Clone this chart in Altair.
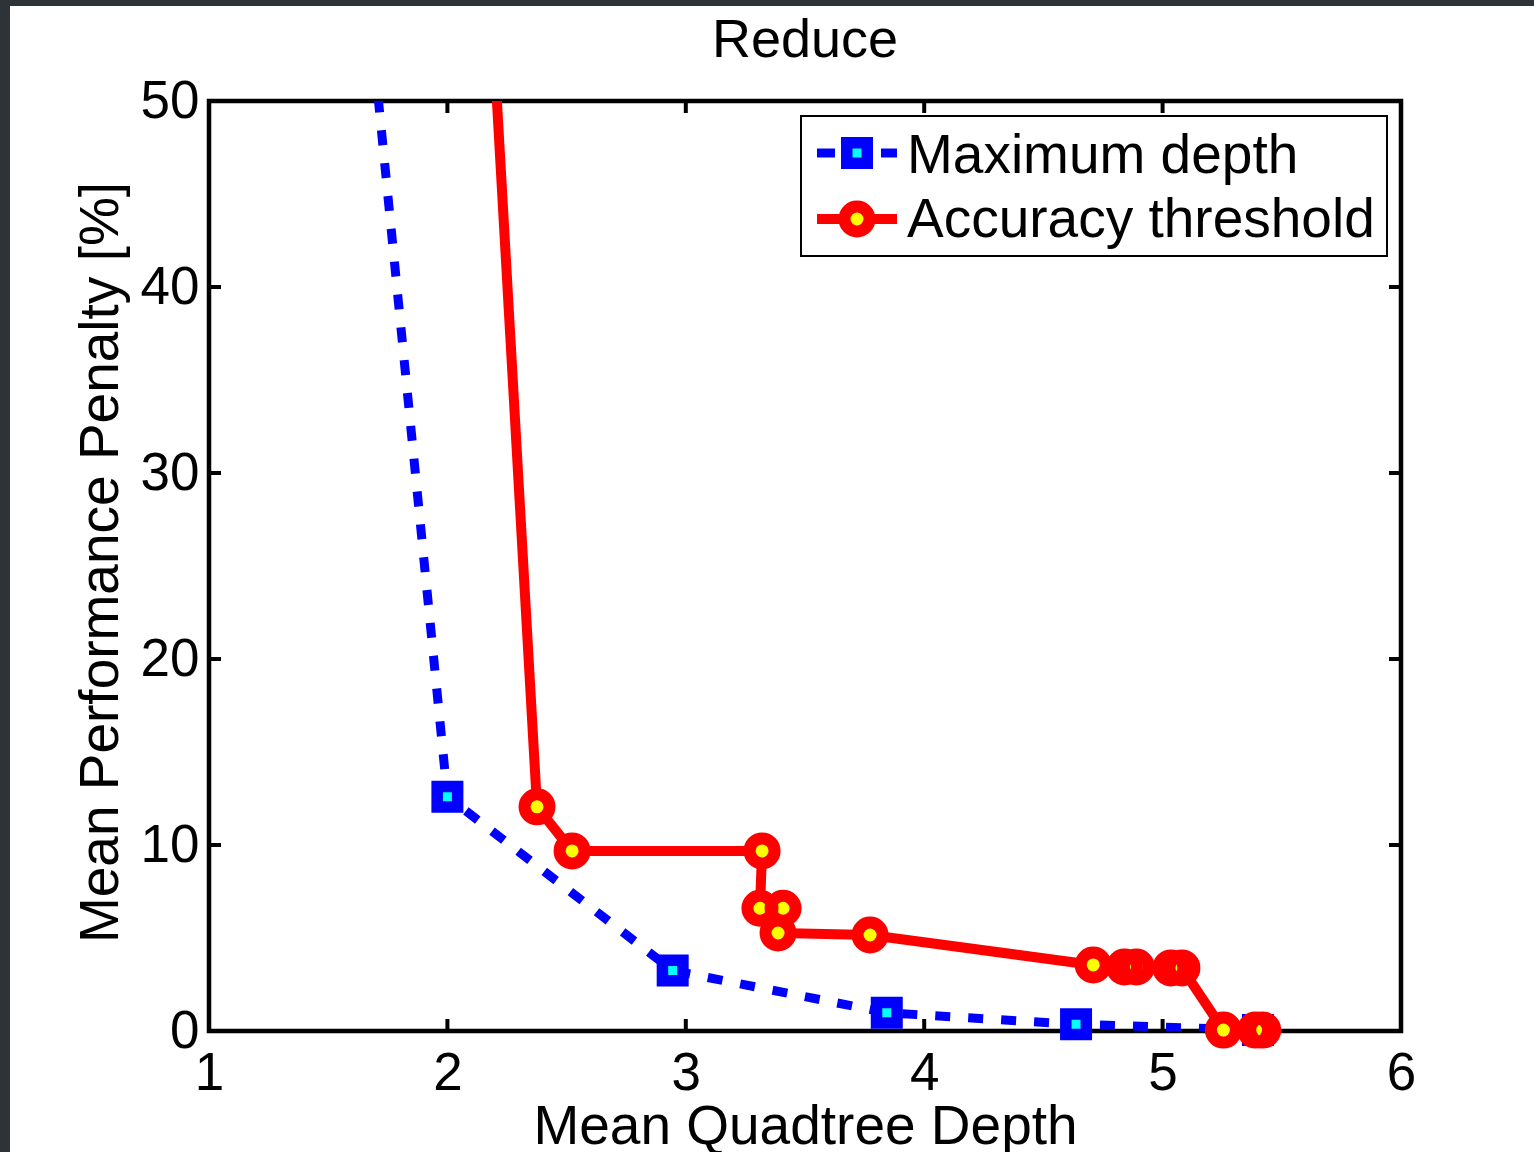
import altair as alt
import pandas as pd

# ---------------- data ----------------
series_names = ["Maximum depth", "Accuracy threshold"]

# Maximum depth series (first point lies far above the visible range)
md_x = [1.00, 2.00, 2.945, 3.843, 4.637, 5.40]
md_y = [142.0, 12.6, 3.25, 0.98, 0.36, 0.05]

# Accuracy threshold series (first point lies above the visible range)
at_x = [2.15, 2.376, 2.523, 3.320, 3.311, 3.408, 3.387, 3.773, 4.709,
        4.840, 4.890, 5.035, 5.081, 5.255, 5.390, 5.420]
at_y = [63.0, 12.05, 9.68, 9.68, 6.60, 6.60, 5.27, 5.16, 3.55,
        3.44, 3.44, 3.39, 3.39, 0.05, 0.05, 0.05]

x_ticks = [1, 2, 3, 4, 5, 6]
y_ticks = [0, 10, 20, 30, 40, 50]
x_inner_ticks = [2, 3, 4, 5]
y_inner_ticks = [10, 20, 30, 40]

title_text = "Reduce"
x_title = "Mean Quadtree Depth"
y_title = "Mean Performance Penalty [%]"

# ---------------- styling ----------------
W, H = 1192, 930
FONT = "Liberation Sans"
BLUE = "#0000ff"
CYAN = "#00ffff"
RED = "#ff0000"
YELLOW = "#ffff00"

md = pd.DataFrame({"x": md_x, "y": md_y, "order": list(range(len(md_x)))})
at = pd.DataFrame({"x": at_x, "y": at_y, "order": list(range(len(at_x)))})
one = pd.DataFrame({"k": [0]})
xt = pd.DataFrame({"x": x_inner_ticks})
yt = pd.DataFrame({"y": y_inner_ticks})

xs = alt.Scale(domain=[1, 6], nice=False, zero=False)
ys = alt.Scale(domain=[0, 50], nice=False, zero=False)

xaxis = alt.Axis(
    values=x_ticks, format="d", domain=False, ticks=False, grid=False,
    labelFont=FONT, labelFontSize=53, labelColor="black", labelPadding=16,
    labelFlush=False, labelOverlap=False,
    title=x_title, titleFont=FONT, titleFontSize=55, titleFontWeight="normal",
    titleColor="black", titleX=596, titleY=112, titleBaseline="alphabetic",
    titleAlign="center", zindex=2,
)
yaxis = alt.Axis(
    values=y_ticks, format="d", domain=False, ticks=False, grid=False,
    labelFont=FONT, labelFontSize=53, labelColor="black", labelPadding=10,
    labelFlush=False, labelOverlap=False,
    title=y_title, titleFont=FONT, titleFontSize=55, titleFontWeight="normal",
    titleColor="black", titleX=-92, titleY=461, titleAngle=270,
    titleBaseline="alphabetic", titleAlign="center", zindex=2,
)


def X():
    return alt.X("x:Q", scale=xs, axis=xaxis)


def Y():
    return alt.Y("y:Q", scale=ys, axis=yaxis)


# background (white page with dark frame at left/top)
bg = alt.Chart(one).mark_rect(fill="white", clip=False).encode(
    x=alt.value(-199), x2=alt.value(1325), y=alt.value(-95), y2=alt.value(1051)
)

frame = alt.Chart(one).mark_rect(fillOpacity=0, stroke="black", strokeWidth=4.5).encode(
    x=alt.value(0), x2=alt.value(W), y=alt.value(0), y2=alt.value(H)
)

tick_style = dict(color="black", strokeWidth=4)
xt_bottom = alt.Chart(xt).mark_rule(**tick_style).encode(x=X(), y=alt.value(H), y2=alt.value(H - 12))
xt_top = alt.Chart(xt).mark_rule(**tick_style).encode(x=X(), y=alt.value(0), y2=alt.value(12))
yt_left = alt.Chart(yt).mark_rule(**tick_style).encode(y=Y(), x=alt.value(0), x2=alt.value(12))
yt_right = alt.Chart(yt).mark_rule(**tick_style).encode(y=Y(), x=alt.value(W), x2=alt.value(W - 12))

# Maximum depth
blue_line = alt.Chart(md).mark_line(
    color=BLUE, strokeWidth=9, strokeDash=[15, 18], strokeCap="butt", clip=True
).encode(x=X(), y=Y(), order="order:Q")
blue_face = alt.Chart(md).transform_filter("datum.y <= 50").mark_point(
    shape="square", filled=True, size=121, color=CYAN, opacity=1
).encode(x=X(), y=Y())
blue_ring = alt.Chart(md).transform_filter("datum.y <= 50").mark_point(
    shape="square", filled=False, size=420, strokeWidth=11.5, color=BLUE, opacity=1
).encode(x=X(), y=Y())

# Accuracy threshold
red_line = alt.Chart(at).mark_line(
    color=RED, strokeWidth=10, clip=True
).encode(x=X(), y=Y(), order="order:Q")
red_face = alt.Chart(at).transform_filter("datum.y <= 50").mark_point(
    shape="circle", filled=True, size=225, color=YELLOW, opacity=1
).encode(x=X(), y=Y())
red_ring = alt.Chart(at).transform_filter("datum.y <= 50").mark_point(
    shape="circle", filled=False, size=625, strokeWidth=12, color=RED, opacity=1
).encode(x=X(), y=Y())

# Legend
LX0, LX1, LMX, LTX = 608, 688, 648, 698
R1, R2 = 52, 118
leg_box = alt.Chart(one).mark_rect(fill="white", stroke="black", strokeWidth=2).encode(
    x=alt.value(592), x2=alt.value(1178), y=alt.value(15), y2=alt.value(155)
)
leg_blue_line = alt.Chart(one).mark_rule(color=BLUE, strokeWidth=9, strokeDash=[18, 46]).encode(
    x=alt.value(LX0), x2=alt.value(LX1), y=alt.value(R1)
)
leg_blue_face = alt.Chart(one).mark_point(shape="square", filled=True, size=121, color=CYAN, opacity=1).encode(
    x=alt.value(LMX), y=alt.value(R1)
)
leg_blue_ring = alt.Chart(one).mark_point(shape="square", filled=False, size=420, strokeWidth=11.5,
                                          color=BLUE, opacity=1).encode(x=alt.value(LMX), y=alt.value(R1))
leg_red_line = alt.Chart(one).mark_rule(color=RED, strokeWidth=10).encode(
    x=alt.value(LX0), x2=alt.value(LX1), y=alt.value(R2)
)
leg_red_face = alt.Chart(one).mark_point(shape="circle", filled=True, size=225, color=YELLOW, opacity=1).encode(
    x=alt.value(LMX), y=alt.value(R2)
)
leg_red_ring = alt.Chart(one).mark_point(shape="circle", filled=False, size=625, strokeWidth=12,
                                         color=RED, opacity=1).encode(x=alt.value(LMX), y=alt.value(R2))
text_style = dict(font=FONT, fontSize=55, color="black", align="left", baseline="alphabetic")
leg_t1 = alt.Chart(one).mark_text(**text_style).encode(
    x=alt.value(LTX), y=alt.value(R1 + 20), text=alt.value(series_names[0])
)
leg_t2 = alt.Chart(one).mark_text(**text_style).encode(
    x=alt.value(LTX), y=alt.value(R2 + 18), text=alt.value(series_names[1])
)

# Chart title (drawn as text above the plot area)
title_mark = alt.Chart(one).mark_text(
    font=FONT, fontSize=54, color="black", align="center", baseline="alphabetic"
).encode(x=alt.value(W / 2), y=alt.value(-44), text=alt.value(title_text))

chart = alt.layer(
    bg, frame, xt_bottom, xt_top, yt_left, yt_right,
    blue_line, blue_face, blue_ring,
    red_line, red_face, red_ring,
    leg_box, leg_blue_line, leg_blue_face, leg_blue_ring,
    leg_red_line, leg_red_face, leg_red_ring, leg_t1, leg_t2,
    title_mark,
).properties(
    width=W, height=H,
    background="#2e3338",
    padding={"left": 209, "top": 101, "right": 133, "bottom": 121},
    autosize=alt.AutoSizeParams(type="none"),
).configure_view(stroke="transparent")

chart.save("out.html", embed_options={"renderer": "svg", "actions": False})
